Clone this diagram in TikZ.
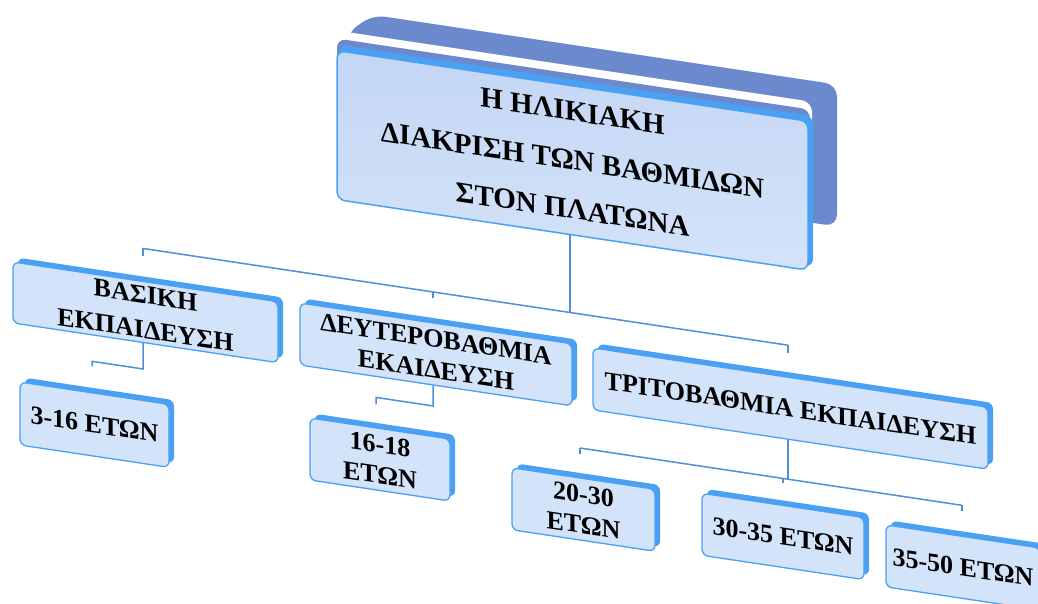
\documentclass[tikz,border=0pt]{standalone}
\usepackage{fontspec}
\setmainfont{Liberation Serif}
\definecolor{boxfill}{HTML}{D3E3FA}
\definecolor{edge}{HTML}{4AA0F2}
\definecolor{topfillA}{HTML}{C3D6F4}
\definecolor{topfillB}{HTML}{D4E3F9}
\definecolor{darkplate}{HTML}{6A8ACD}
\definecolor{conn}{HTML}{4F8FD6}
\tikzset{
  lvlbox/.style={draw=edge, line width=1.3pt, fill=boxfill, rounded corners=6pt,
    inner sep=0pt, align=center, text=black, font=\fontsize{26}{31}\selectfont\bfseries},
  topbox/.style={draw=edge, line width=1.5pt, top color=topfillA, bottom color=topfillB,
    rounded corners=8pt, inner sep=0pt, align=center, text=black,
    font=\fontsize{29}{49}\selectfont\bfseries},
  band/.style={fill=edge, rounded corners=6pt},
  link/.style={draw=conn, line width=1.5pt},
}
\newcommand\boxband[4]{\fill[band] (#1+5,#2-5) rectangle (#3+5,#4-5);}
\begin{document}
\begin{tikzpicture}[x=1pt,y=-1pt]
\useasboundingbox (0,0) rectangle (1038,603);
\begin{scope}[yslant=-0.15, every node/.style={transform shape}]
  % ---- top box layers
  \fill[darkplate, rounded corners=12pt] (347,100) -- (347,-19) -- (373,-41) -- (837,-41) -- (837,101) -- cycle;
  \fill[white, rounded corners=10pt] (340,-20) rectangle (812,140);
  \fill[darkplate, rounded corners=9pt] (337,-12) rectangle (810,140);
  \fill[band, rounded corners=8pt] (339,-6) rectangle (813,145);
  \node[topbox, minimum width=471pt, minimum height=149pt] (top) at (572.5,74.5)
    {Η ΗΛΙΚΙΑΚΗ\\ΔΙΑΚΡΙΣΗ ΤΩΝ ΒΑΘΜΙΔΩΝ\\ΣΤΟΝ ΠΛΑΤΩΝΑ};

  % ---- level 2
  \boxband{13}{260}{278}{321}
  \node[lvlbox, minimum width=265pt, minimum height=61pt, font=\fontsize{26}{35}\selectfont\bfseries] (basic) at (145.5,290.5) {ΒΑΣΙΚΗ\\ΕΚΠΑΙΔΕΥΣΗ};
  \boxband{300}{258}{572}{320}
  \node[lvlbox, minimum width=272pt, minimum height=62pt] (second) at (436,289) {ΔΕΥΤΕΡΟΒΑΘΜΙΑ\\ΕΚΑΙΔΕΥΣΗ};
  \boxband{593}{259}{988}{321}
  \node[lvlbox, minimum width=395pt, minimum height=62pt] (third) at (790.5,290) {ΤΡΙΤΟΒΑΘΜΙΑ ΕΚΠΑΙΔΕΥΣΗ};

  % ---- level 3
  \boxband{20}{379}{169}{442}
  \node[lvlbox, minimum width=149pt, minimum height=63pt] (a1) at (94.5,410.5) {3-16 ΕΤΩΝ};
  \boxband{310}{371.5}{450}{433.5}
  \node[lvlbox, minimum width=140pt, minimum height=62pt] (b1) at (380,402.5) {16-18\\ΕΤΩΝ};
  \boxband{512}{391}{655}{453}
  \node[lvlbox, minimum width=143pt, minimum height=62pt] (c1) at (583.5,422) {20-30\\ΕΤΩΝ};
  \boxband{702}{388}{864}{450}
  \node[lvlbox, minimum width=162pt, minimum height=62pt] (c2) at (783,419) {30-35 ΕΤΩΝ};
  \boxband{886}{392}{1040}{454}
  \node[lvlbox, minimum width=154pt, minimum height=62pt] (c3) at (963,423) {35-50 ΕΤΩΝ};

  % ---- connectors
  \coordinate (hL) at (143,227);
  \coordinate (hM) at (433,227);
  \coordinate (hR) at (788,227);
  \coordinate (hT) at (570,227);
  \draw[link] (hT |- top.south) -- (hT);
  \draw[link] (hL) -- (hR);
  \draw[link] (hL) -- ++(0,8);
  \draw[link] (hM) -- ++(0,6);
  \draw[link] (hR) -- ++(0,8);

  \coordinate (bA) at (143,347.5);
  \coordinate (bB) at (92,347.5);
  \draw[link] (bA |- basic.south) -- (bA) -- (bB) -- ++(0,5);

  \coordinate (dA) at (433,341);
  \coordinate (dB) at (376,341);
  \draw[link] (dA |- second.south) -- (dA) -- (dB) -- ++(0,7);

  \coordinate (tA) at (788,361);
  \coordinate (tL) at (580,361);
  \coordinate (tM) at (783,361);
  \coordinate (tR) at (962,361);
  \draw[link] (tA |- third.south) -- (tA);
  \draw[link] (tL) -- (tR);
  \draw[link] (tL) -- ++(0,6);
  \draw[link] (tM) -- ++(0,5);
  \draw[link] (tR) -- ++(0,6);
\end{scope}
\end{tikzpicture}
\end{document}
